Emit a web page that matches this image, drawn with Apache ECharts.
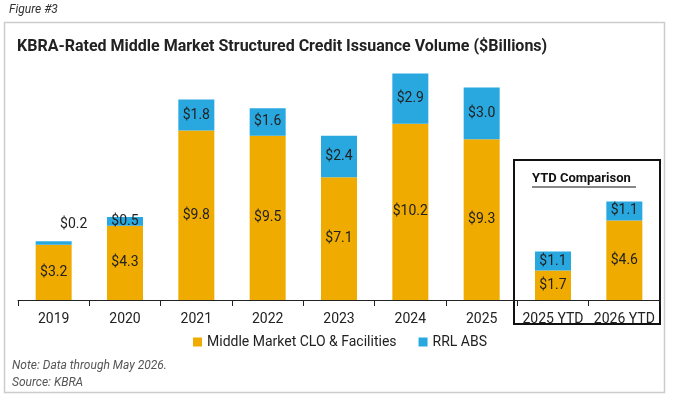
<!DOCTYPE html>
<html><head><meta charset="utf-8">
<script src="https://cdn.jsdelivr.net/npm/echarts@6/dist/echarts.min.js"></script>
<style>html,body{margin:0;padding:0;background:#fff}#main{width:680px;height:402px}</style>
</head><body><div id="main"></div>
<script>
const categories = ['2019', '2020', '2021', '2022', '2023', '2024', '2025', '2025 YTD', '2026 YTD'];
const cloValues = [3.2, 4.3, 9.8, 9.5, 7.1, 10.2, 9.3, 1.7, 4.6];
const rrlValues = [0.2, 0.5, 1.8, 1.6, 2.4, 2.9, 3.0, 1.1, 1.1];

const ORANGE = '#F0AB00';
const BLUE = '#29A8E0';
const FONT = 'Roboto';

let chart = echarts.init(document.getElementById('main'));

let rrlData = rrlValues.map(function (v) {
  if (v < 0.3) {
    return { value: v, label: { position: 'top', distance: 6, offset: [20, -4] } };
  }
  return v;
});

chart.setOption({
  animation: false,
  textStyle: { fontFamily: FONT },
  title: {
    text: 'KBRA-Rated Middle Market Structured Credit Issuance Volume ($Billions)',
    left: 12, top: 34,
    textStyle: { fontSize: 16, fontWeight: 'bold', color: '#222', fontFamily: FONT },
  },
  legend: {
    bottom: 48, left: 'center', itemWidth: 9, itemHeight: 9, itemGap: 22,
    icon: 'rect',
    textStyle: { fontSize: 14, color: '#222', fontFamily: FONT },
    data: ['Middle Market CLO & Facilities', 'RRL ABS'],
  },
  grid: { left: 18, right: 20, top: 58, bottom: 102 },
  xAxis: {
    type: 'category', data: categories,
    axisLine: { lineStyle: { color: '#222' } },
    axisTick: { show: true, length: 6, lineStyle: { color: '#222' } },
    axisLabel: { fontSize: 14, color: '#222', margin: 12, interval: 0 },
  },
  yAxis: { type: 'value', min: 0, max: 14, show: false, splitLine: { show: false } },
  graphic: [
    { type: 'text', left: 9, top: 4, style: { text: 'Figure #3', font: 'italic 12px Roboto', fill: '#333' } },
    { type: 'rect', shape: { x: 4.5, y: 22.5, width: 660, height: 370 }, style: { fill: 'none', stroke: '#ccc', lineWidth: 1.5 } },
    { type: 'rect', shape: { x: 514, y: 160, width: 146, height: 164 }, style: { fill: 'none', stroke: '#111', lineWidth: 2 } },
    { type: 'text', left: 532, top: 172, style: { text: 'YTD Comparison', font: 'bold 13px Roboto', fill: '#111' } },
    { type: 'line', shape: { x1: 532, y1: 187, x2: 636, y2: 187 }, style: { stroke: '#111', lineWidth: 1 } },
    { type: 'text', left: 12, top: 360, style: { text: 'Note: Data through May 2026.', font: 'italic 12px Roboto', fill: '#555' } },
    { type: 'text', left: 12, top: 377, style: { text: 'Source: KBRA', font: 'italic 12px Roboto', fill: '#555' } },
  ],
  series: [
    {
      name: 'Middle Market CLO & Facilities', type: 'bar', stack: 'v', barWidth: 36,
      itemStyle: { color: ORANGE }, data: cloValues,
      label: { show: true, position: 'inside', fontSize: 14, color: '#222', formatter: (p) => '$' + p.value.toFixed(1) },
    },
    {
      name: 'RRL ABS', type: 'bar', stack: 'v', barWidth: 36,
      itemStyle: { color: BLUE }, data: rrlData,
      label: { show: true, position: 'inside', fontSize: 14, color: '#222', formatter: (p) => '$' + p.value.toFixed(1) },
    },
  ],
});
</script></body></html>
